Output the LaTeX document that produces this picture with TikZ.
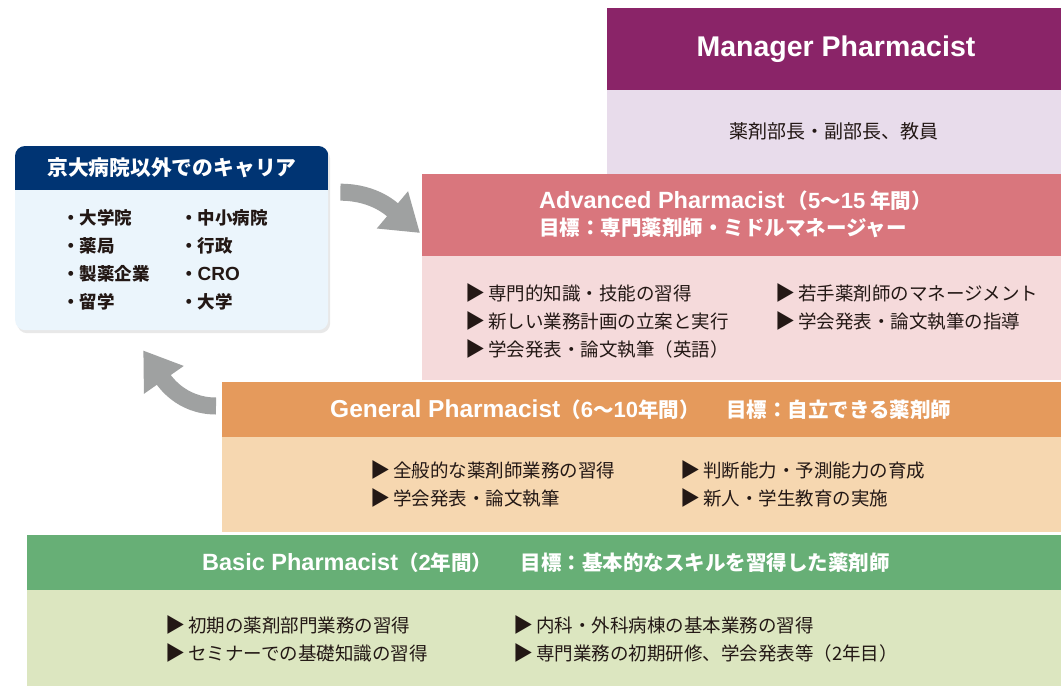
\documentclass[tikz,border=0pt]{standalone}
\usepackage{fontspec}
\setmainfont{Noto Sans CJK JP}
\newfontfamily\lat{Liberation Sans}
\newcommand\latw[2]{{\lat\fontsize{#1}{#1}\selectfont #2}}
\newcommand\tri{{\fontsize{20}{20}\selectfont ▶}\hspace{3pt}}
\usetikzlibrary{arrows.meta,shadows}
\definecolor{mgrdark}{HTML}{8A2468}
\definecolor{mgrlight}{HTML}{E8DCEB}
\definecolor{advdark}{HTML}{D9767D}
\definecolor{advlight}{HTML}{F5DADB}
\definecolor{gendark}{HTML}{E59A5C}
\definecolor{genlight}{HTML}{F6D7B0}
\definecolor{basdark}{HTML}{67AF76}
\definecolor{baslight}{HTML}{DCE6C0}
\definecolor{navy}{HTML}{003473}
\definecolor{careerbg}{HTML}{EBF5FC}
\definecolor{arrowgray}{HTML}{9FA1A1}
\definecolor{txt}{HTML}{231815}
\tikzset{
  tier/.style={rectangle, inner sep=0pt, outer sep=0pt, anchor=north west, draw=none},
  item/.style={anchor=west, inner sep=0pt, text=txt, font=\fontsize{18.5}{22}\selectfont},
  citem/.style={anchor=west, inner sep=0pt, text=txt, font=\bfseries\fontsize{17.5}{22}\selectfont},
  hdr/.style={inner sep=0pt, anchor=west, text=white, font=\bfseries\fontsize{20.5}{24}\selectfont},
  bigarrow/.style={draw=arrowgray, line width=17pt, -{Triangle[length=36pt,width=46pt]}}
}
\begin{document}
\begin{tikzpicture}[x=1pt,y=1pt]
\useasboundingbox[fill=white] (0,0) rectangle (1061,-686);
% tiers
\node[tier, fill=mgrdark, minimum width=454pt, minimum height=82pt] (mgrH) at (607,-8) {};
\node[tier, fill=mgrlight, minimum width=454pt, minimum height=84pt] (mgrB) at (607,-90) {};
\node[tier, fill=advdark, minimum width=639pt, minimum height=82pt] (advH) at (422,-174) {};
\node[tier, fill=advlight, minimum width=639pt, minimum height=124pt] (advB) at (422,-256) {};
\node[tier, fill=gendark, minimum width=839pt, minimum height=55pt] (genH) at (222,-382) {};
\node[tier, fill=genlight, minimum width=839pt, minimum height=95pt] (genB) at (222,-437) {};
\node[tier, fill=basdark, minimum width=1034pt, minimum height=55pt] (basH) at (27,-535) {};
\node[tier, fill=baslight, minimum width=1034pt, minimum height=96pt] (basB) at (27,-590) {};
% manager
\node[inner sep=0pt, text=white, font=\bfseries] (mgrT) at (836,-49) {\latw{28.5}{Manager Pharmacist}};
\node[inner sep=0pt, text=txt, font=\fontsize{19}{22}\selectfont] (mgrI) at (834,-131) {薬剤部長・副部長、教員};
% advanced
\node[hdr] (advT1) at (539,-201) {\latw{23.5}{Advanced Pharmacist}\hspace{3pt}（\latw{22}{5}～\latw{22}{15} 年間）};
\node[hdr] (advT2) at (539,-228) {目標：専門薬剤師・ミドルマネージャー};
\node[item] (adv1) at (465,-293) {\tri 専門的知識・技能の習得};
\node[item] (adv2) at (465,-321) {\tri 新しい業務計画の立案と実行};
\node[item] (adv3) at (465,-349) {\tri 学会発表・論文執筆（英語）};
\node[item] (adv4) at (775,-293) {\tri 若手薬剤師のマネージメント};
\node[item] (adv5) at (775,-321) {\tri 学会発表・論文執筆の指導};
% general
\node[hdr] (genT) at (330,-410) {\latw{24.5}{General Pharmacist}（\latw{22}{6}～\latw{22}{10}年間）\hspace{6pt}　目標：自立できる薬剤師};
\node[item] (gen1) at (370,-470) {\tri 全般的な薬剤師業務の習得};
\node[item] (gen2) at (370,-498) {\tri 学会発表・論文執筆};
\node[item] (gen3) at (680,-470) {\tri 判断能力・予測能力の育成};
\node[item] (gen4) at (680,-498) {\tri 新人・学生教育の実施};
% basic
\node[hdr] (basT) at (202,-563) {\latw{23.5}{Basic Pharmacist}（\latw{22}{2}年間）\hspace{8pt}　目標：基本的なスキルを習得した薬剤師};
\node[item] (bas1) at (165,-625) {\tri 初期の薬剤部門業務の習得};
\node[item] (bas2) at (165,-653) {\tri セミナーでの基礎知識の習得};
\node[item] (bas3) at (513,-625) {\tri 内科・外科病棟の基本業務の習得};
\node[item] (bas4) at (513,-653) {\tri 専門業務の初期研修、学会発表等（2年目）};
% career box
\node[rectangle, rounded corners=10pt, fill=careerbg, inner sep=0pt, anchor=north west,
      minimum width=313pt, minimum height=184pt,
      drop shadow={opacity=0.18, shadow xshift=2pt, shadow yshift=-3pt}] (career) at (15,-146) {};
\begin{scope}
\clip[rounded corners=10pt] (career.north west) rectangle (career.south east);
\fill[navy] (career.north west) rectangle ([yshift=-44pt]career.north east);
\end{scope}
\node[inner sep=0pt, text=white, font=\bfseries\fontsize{20.8}{24}\selectfont] (carT) at (172,-168) {京大病院以外でのキャリア};
\node[citem] (c1) at (62,-218) {・大学院};
\node[citem] (c2) at (62,-246) {・薬局};
\node[citem] (c3) at (62,-274) {・製薬企業};
\node[citem] (c4) at (62,-302) {・留学};
\node[citem] (c5) at (180,-218) {・中小病院};
\node[citem] (c6) at (180,-246) {・行政};
\node[citem] (c7) at (180,-274) {・\latw{19}{CRO}};
\node[citem] (c8) at (180,-302) {・大学};
% arrows
\coordinate (a1s) at ([xshift=12pt,yshift=46pt]career.east);
\coordinate (a1e) at ([xshift=-2pt,yshift=-18pt]advH.west);
\draw[bigarrow] (a1s) to[out=0,in=140] (a1e);
\coordinate (a2s) at ([xshift=-6pt,yshift=3.5pt]genH.west);
\coordinate (a2e) at ([xshift=-28.5pt,yshift=-20pt]career.south);
\draw[bigarrow] (a2s) to[out=180,in=-55] (a2e);
\end{tikzpicture}
\end{document}
